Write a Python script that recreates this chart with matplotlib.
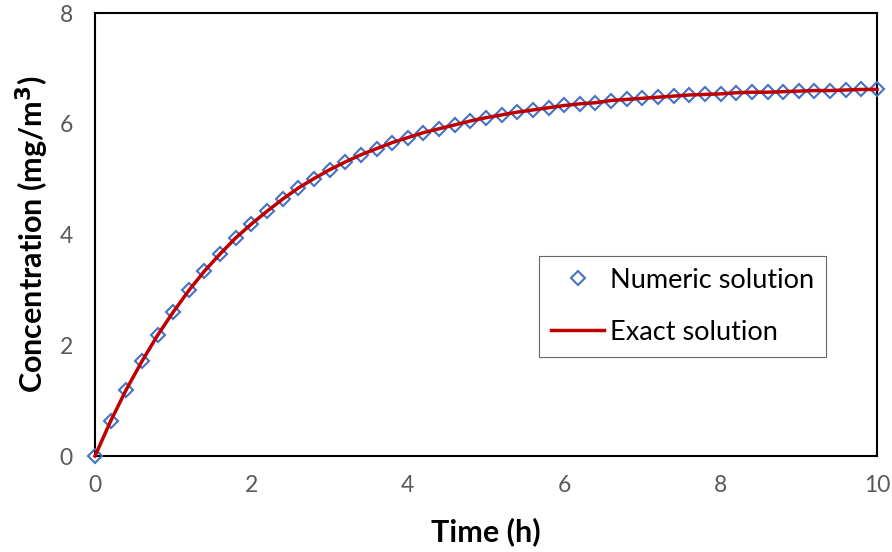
import numpy as np
import matplotlib.pyplot as plt

# Time grid (h) and concentration (mg/m3)
time_h = np.arange(0, 10.01, 0.2)
numeric_conc = [0.00, 0.63, 1.20, 1.71, 2.18, 2.60, 2.99, 3.34, 3.65, 3.94,
                4.19, 4.42, 4.64, 4.84, 5.01, 5.17, 5.31, 5.44, 5.55, 5.66,
                5.75, 5.84, 5.91, 5.98, 6.05, 6.11, 6.16, 6.21, 6.25, 6.29,
                6.33, 6.36, 6.38, 6.42, 6.44, 6.46, 6.48, 6.50, 6.52, 6.53,
                6.54, 6.56, 6.57, 6.57, 6.58, 6.59, 6.60, 6.60, 6.61, 6.62,
                6.62]
exact_conc = list(numeric_conc)

x_ticks = [0, 2, 4, 6, 8, 10]
y_ticks = [0, 2, 4, 6, 8]

plt.rcParams['font.family'] = ['Lato', 'DejaVu Sans']

fig = plt.figure(figsize=(8.92, 5.52), dpi=100)
ax = fig.add_axes([0.1065, 0.1739, 0.8767, 0.8025])

ax.plot(time_h, numeric_conc, linestyle='none', marker='D', markersize=7,
        markerfacecolor='none', markeredgecolor='#4472C4', markeredgewidth=1.5,
        label='Numeric solution', clip_on=False, zorder=3)
ax.plot(time_h, exact_conc, color='#C00000', linewidth=2.5,
        label='Exact solution', clip_on=False, zorder=4)

ax.set_xlim(0, 10)
ax.set_ylim(0, 8)
ax.set_xticks(x_ticks)
ax.set_yticks(y_ticks)
ax.tick_params(length=0, labelsize=16.5, labelcolor='#595959')
ax.tick_params(axis='x', pad=14)
ax.tick_params(axis='y', pad=16)

for side in ['left', 'right', 'top', 'bottom']:
    ax.spines[side].set_color('black')
    ax.spines[side].set_linewidth(1.5)

ax.set_xlabel('Time (h)', fontsize=22, fontweight='bold', labelpad=15)
ax.set_ylabel('Concentration (mg/m$^\\mathbf{3}$)', fontsize=22,
              fontweight='bold', labelpad=6)

leg = ax.legend(loc='lower left', bbox_to_anchor=(0.568, 0.2235), fontsize=19.5,
                frameon=True, fancybox=False, handlelength=1.95,
                handletextpad=0.22, borderpad=0.45, borderaxespad=0,
                labelspacing=1.0)
leg.get_frame().set_edgecolor('#404040')
leg.get_frame().set_linewidth(0.8)

plt.savefig('out.png', dpi=100)
